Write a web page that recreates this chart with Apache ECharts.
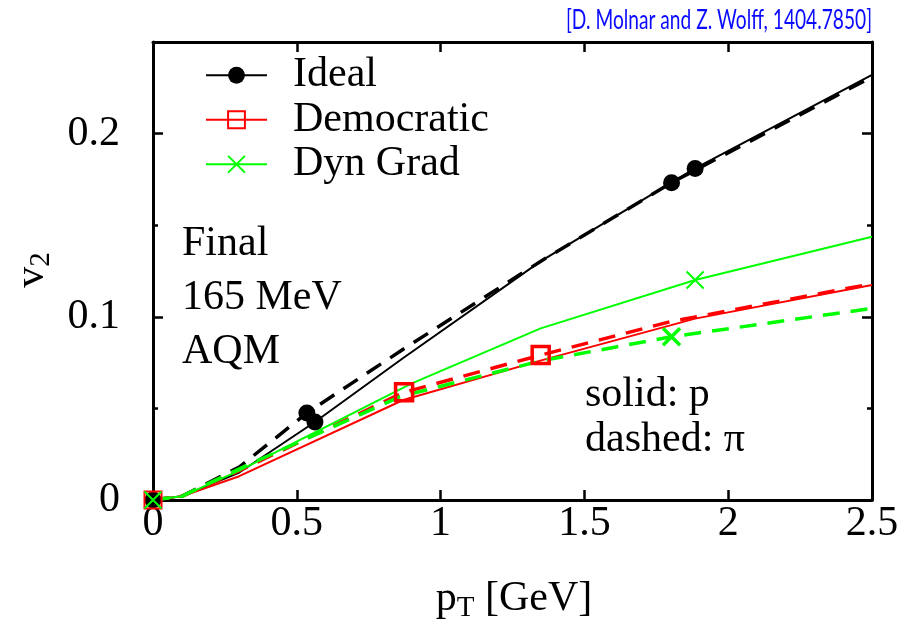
<!DOCTYPE html>
<html>
<head>
<meta charset="utf-8">
<script src="https://cdn.jsdelivr.net/npm/echarts@6/dist/echarts.min.js"></script>
<style>
  html, body { margin: 0; padding: 0; background: #fff; }
  #chart { width: 918px; height: 633px; }
</style>
</head>
<body>
<div id="chart"></div>
<script>
// Elliptic flow v2(pT) at 165 MeV freeze-out, AQM, three viscous-correction schemes.
// Solid curves: protons, dashed curves: pions.
const xTickLabels = ['0', '0.5', '1', '1.5', '2', '2.5'];
const yTickLabels = ['0', '0.1', '0.2'];

const idealP_x  = [0, 0.1, 0.3, 0.563, 0.87, 1.35, 1.885, 2.5];
const idealP_y  = [0, 0.002, 0.015, 0.0426, 0.0775, 0.1305, 0.181, 0.232];
const idealP_marks = [0, 3, 6];

const idealPi_x = [0, 0.1, 0.3, 0.535, 0.87, 1.35, 1.803, 2.5];
const idealPi_y = [0, 0.002, 0.018, 0.0475, 0.0823, 0.1305, 0.1732, 0.231];
const idealPi_marks = [3, 6];

const demP_x  = [0, 0.1, 0.3, 0.87, 1.35, 1.885, 2.5];
const demP_y  = [0, 0.002, 0.013, 0.0546, 0.0762, 0.099, 0.1174];
const demP_marks = [0];

const demPi_x = [0, 0.1, 0.3, 0.873, 1.348, 1.803, 2.5];
const demPi_y = [0, 0.002, 0.016, 0.0588, 0.0791, 0.0975, 0.118];
const demPi_marks = [3, 4];

const dynP_x  = [0, 0.1, 0.3, 0.9, 1.348, 1.885, 2.5];
const dynP_y  = [0, 0.002, 0.016, 0.0637, 0.0937, 0.1201, 0.1437];
const dynP_marks = [0, 5];

const dynPi_x = [0, 0.1, 0.3, 0.86, 1.35, 1.803, 2.5];
const dynPi_y = [0, 0.002, 0.017, 0.0565, 0.076, 0.0891, 0.1046];
const dynPi_marks = [5];

const citation = '[D. Molnar and Z. Wolff, 1404.7850]';

const SERIF = '"Liberation Serif", "DejaVu Serif", serif';
const SANS = 'Lato, "Open Sans", sans-serif';
const BLACK = '#000000', RED = '#ff0000', GREEN = '#00ff00', BLUE = '#0a0aff';
const CROSS = 'path://M0,0L10,10M10,0L0,10';

function points(xs, ys, marks) {
  return xs.map((x, i) => marks.includes(i)
    ? { value: [x, ys[i]] }
    : { value: [x, ys[i]], symbol: 'none' });
}

function curve(name, xs, ys, marks, color, symbol, dashed, filled) {
  const w = dashed ? 3.5 : 2;
  return {
    name: name,
    type: 'line',
    xAxisIndex: 0,
    yAxisIndex: 0,
    data: points(xs, ys, marks),
    symbol: symbol,
    symbolSize: 17,
    showSymbol: true,
    animation: false,
    lineStyle: { color: color, width: w, type: dashed ? [17, 11] : 'solid' },
    itemStyle: {
      color: filled ? color : 'rgba(0,0,0,0)',
      borderColor: color,
      borderWidth: filled ? 0 : w
    },
    emphasis: { disabled: true }
  };
}

// Squeeze the citation horizontally to the width of the narrow slide font.
const citeFont = '27px ' + SANS;
const measureCtx = document.createElement('canvas').getContext('2d');
measureCtx.font = citeFont;
const citeScaleX = 306 / measureCtx.measureText(citation).width;

const chart = echarts.init(document.getElementById('chart'), null, { renderer: 'canvas' });

const axisLineStyle = { color: BLACK, width: 3 };
const tickStyle = { color: BLACK, width: 2.5 };

function frameAxis(position, extra) {
  return Object.assign({
    type: 'value',
    position: position,
    axisLine: { show: true, onZero: false, lineStyle: axisLineStyle },
    axisTick: { show: true, inside: true, length: 10, lineStyle: tickStyle },
    axisLabel: { show: false },
    splitLine: { show: false }
  }, extra);
}

chart.setOption({
  backgroundColor: '#ffffff',
  animation: false,
  grid: { left: 153, right: 46, top: 42, bottom: 133, containLabel: false },
  legend: {
    data: ['Ideal', 'Democratic', 'Dyn Grad'],
    orient: 'vertical',
    left: 205,
    top: 53,
    padding: 0,
    itemWidth: 61,
    itemHeight: 21,
    itemGap: 0,
    selectedMode: false,
    textStyle: { fontFamily: SERIF, fontSize: 42, color: BLACK, lineHeight: 44.5, padding: [0, 0, 0, 21] }
  },
  xAxis: [
    frameAxis('bottom', {
      min: 0, max: 2.5, interval: 0.5,
      axisLabel: {
        show: true, margin: 3, color: BLACK, fontFamily: SERIF, fontSize: 42,
        formatter: v => xTickLabels[Math.round(v / 0.5)] ?? ''
      }
    }),
    frameAxis('top', { min: 0, max: 2.5, interval: 0.5 })
  ],
  yAxis: [
    frameAxis('left', {
      min: 0, max: 0.25, interval: 0.1,
      minorTick: { show: true, splitNumber: 2, length: 5, lineStyle: tickStyle },
      axisLabel: {
        show: true, margin: 33, color: BLACK, fontFamily: SERIF, fontSize: 42,
        formatter: v => {
          const k = Math.round(v / 0.1);
          return Math.abs(v - k * 0.1) < 1e-9 ? (yTickLabels[k] ?? '') : '';
        }
      }
    }),
    frameAxis('right', {
      min: 0, max: 0.25, interval: 0.1,
      minorTick: { show: true, splitNumber: 2, length: 5, lineStyle: tickStyle }
    })
  ],
  series: [
    curve('Ideal', idealP_x, idealP_y, idealP_marks, BLACK, 'circle', false, true),
    curve('Ideal \u03c0', idealPi_x, idealPi_y, idealPi_marks, BLACK, 'circle', true, true),
    curve('Democratic', demP_x, demP_y, demP_marks, RED, 'rect', false, false),
    curve('Democratic \u03c0', demPi_x, demPi_y, demPi_marks, RED, 'rect', true, false),
    curve('Dyn Grad', dynP_x, dynP_y, dynP_marks, GREEN, CROSS, false, false),
    curve('Dyn Grad \u03c0', dynPi_x, dynPi_y, dynPi_marks, GREEN, CROSS, true, false)
  ],
  graphic: [
    {
      type: 'text', x: 872, y: 20, scaleX: citeScaleX, originX: 0, originY: 0,
      style: { text: citation, font: citeFont, fill: BLUE, align: 'right', verticalAlign: 'middle' }
    },
    { type: 'text', x: 182, y: 244, style: { text: 'Final', font: '42px ' + SERIF, fill: BLACK, verticalAlign: 'middle' } },
    { type: 'text', x: 182, y: 298, style: { text: '165 MeV', font: '42px ' + SERIF, fill: BLACK, verticalAlign: 'middle' } },
    { type: 'text', x: 182, y: 352, style: { text: 'AQM', font: '42px ' + SERIF, fill: BLACK, verticalAlign: 'middle' } },
    { type: 'text', x: 585, y: 395, style: { text: 'solid: p', font: '42px ' + SERIF, fill: BLACK, verticalAlign: 'middle' } },
    { type: 'text', x: 585, y: 440, style: { text: 'dashed: \u03c0', font: '42px ' + SERIF, fill: BLACK, verticalAlign: 'middle' } },
    {
      type: 'text', x: 514, y: 603,
      style: {
        text: '{m|p}{s|T}{m| [GeV]}',
        align: 'center', verticalAlign: 'middle',
        rich: {
          m: { fontFamily: SERIF, fontSize: 42, fill: BLACK, color: BLACK, lineHeight: 50, verticalAlign: 'top' },
          s: { fontFamily: SERIF, fontSize: 29, fill: BLACK, color: BLACK, lineHeight: 50, padding: [16, 0, 0, 0], verticalAlign: 'top' }
        }
      }
    },
    {
      type: 'text', x: 36, y: 270, rotation: Math.PI / 2,
      style: {
        text: '{m|v}{s|2}',
        align: 'center', verticalAlign: 'middle',
        rich: {
          m: { fontFamily: SERIF, fontSize: 42, fill: BLACK, color: BLACK, lineHeight: 50, verticalAlign: 'top' },
          s: { fontFamily: SERIF, fontSize: 29, fill: BLACK, color: BLACK, lineHeight: 50, padding: [16, 0, 0, 0], verticalAlign: 'top' }
        }
      }
    }
  ]
});
</script>
</body>
</html>
